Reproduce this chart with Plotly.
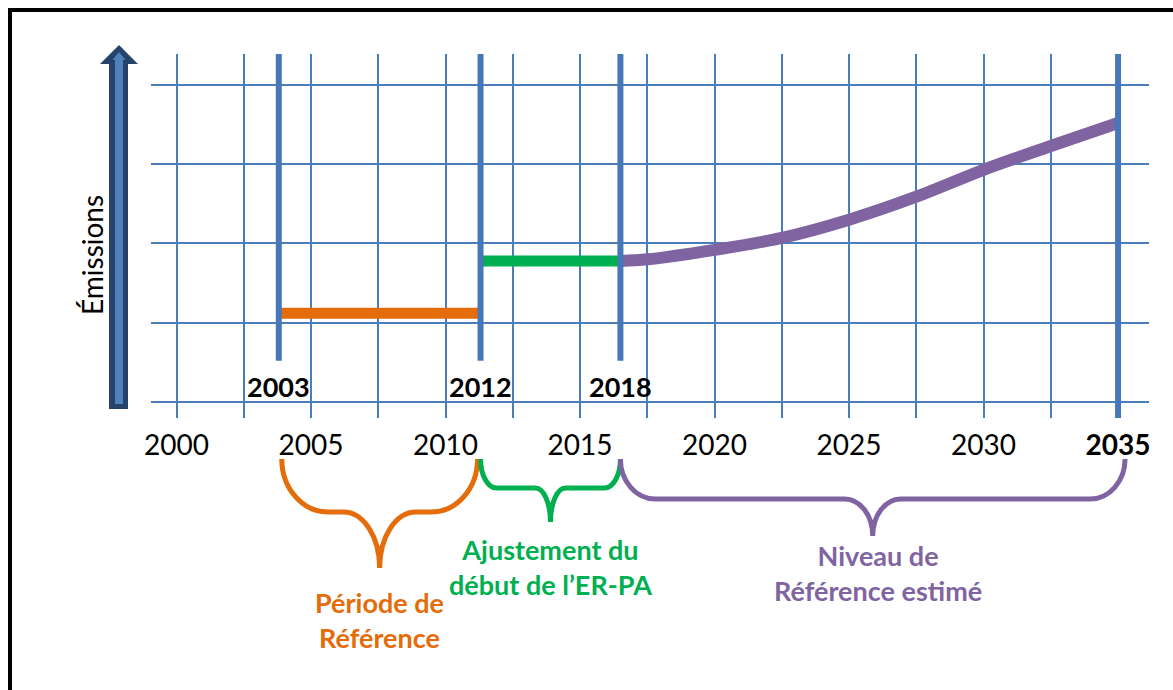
import plotly.graph_objects as go

# ---------------- data ----------------
year_ticks = [2000, 2005, 2010, 2015, 2020, 2025, 2030, 2035]
year_labels = ["2000", "2005", "2010", "2015", "2020", "2025", "2030", "<b>2035</b>"]
minor_step = 2.5
emission_levels = [0, 1, 2, 3, 4]

milestone_labels = ["2003", "2012", "2018", ""]
milestone_x = [2003.8, 2011.3, 2016.5, 2035.0]
milestone_bottom = [0.52, 0.52, 0.52, -0.21]

ref_period_x = [2003.8, 2011.3]
ref_period_y = [1.12, 1.12]
adjust_x = [2011.3, 2016.5]
adjust_y = [1.78, 1.78]
proj_x = [2016.5, 2017.5, 2020.0, 2022.5, 2025.0, 2027.5, 2030.0, 2032.5, 2035.0]
proj_y = [1.78, 1.80, 1.92, 2.07, 2.30, 2.59, 2.93, 3.23, 3.52]

brace_labels = ["Période de<br>Référence",
                "Ajustement du<br>début de l’ER-PA",
                "Niveau de<br>Référence estimé"]
brace_spans = [(0, 1), (1, 2), (2, 3)]
y_title = "Émissions"

# ---------------- style ----------------
W, H = 1173, 690
L, R, T, B = 151, 24, 54, 272
X_RANGE = [1999.05, 2036.15]
Y_RANGE = [-0.202, 4.391]
GRID = "#4A7EBB"
THICK = "#4677B8"
ORANGE = "#E46C0A"
GREEN = "#00B050"
PURPLE = "#8064A2"
FONT = "Lato"

pw, ph = W - L - R, H - T - B


def px2paper(px, py):
    return (px - L) / pw, (H - B - py) / ph


def data2px(x):
    return L + (x - X_RANGE[0]) / (X_RANGE[1] - X_RANGE[0]) * pw


def path_from_px(cmds):
    out = []
    for c in cmds:
        if isinstance(c, str):
            out.append(c)
        else:
            a, b = px2paper(*c)
            out.append(f"{a:.5f},{b:.5f}")
    return " ".join(out)


fig = go.Figure()

fig.add_trace(go.Scatter(x=ref_period_x, y=ref_period_y, mode="lines",
                         line=dict(color=ORANGE, width=11), hoverinfo="skip"))
fig.add_trace(go.Scatter(x=adjust_x, y=adjust_y, mode="lines",
                         line=dict(color=GREEN, width=11), hoverinfo="skip"))
fig.add_trace(go.Scatter(x=proj_x, y=proj_y, mode="lines",
                         line=dict(color=PURPLE, width=12, shape="spline", smoothing=0.9),
                         hoverinfo="skip"))
for mx, mb in zip(milestone_x, milestone_bottom):
    fig.add_trace(go.Scatter(x=[mx, mx], y=[mb, Y_RANGE[1]], mode="lines",
                             line=dict(color=THICK, width=6), hoverinfo="skip"))

for lab, mx in zip(milestone_labels, milestone_x):
    if lab:
        fig.add_annotation(x=mx, y=0.19, xref="x", yref="y", text=f"<b>{lab}</b>",
                           showarrow=False, font=dict(family=FONT, size=27, color="black"),
                           xanchor="center", yanchor="middle")

shapes = []
# frame
fx0, fy0 = px2paper(10, 10)
fx1, fy1 = px2paper(1190, 710)
shapes.append(dict(type="rect", xref="paper", yref="paper", x0=fx0, y0=fy1, x1=fx1, y1=fy0,
                   line=dict(color="black", width=4), fillcolor="rgba(0,0,0,0)", layer="above"))
# y arrow
outer = ["M", (109, 409), "L", (109, 64), "L", (100, 64), "L", (119, 45), "L", (138, 64),
         "L", (128, 64), "L", (128, 409), "Z"]
inner = ["M", (115, 404), "L", (115, 60), "L", (112.5, 60), "L", (119, 52), "L", (125.5, 60),
         "L", (123, 60), "L", (123, 404), "Z"]
shapes.append(dict(type="path", xref="paper", yref="paper", path=path_from_px(outer),
                   fillcolor="#27436A", line=dict(width=0)))
shapes.append(dict(type="path", xref="paper", yref="paper", path=path_from_px(inner),
                   fillcolor="#4F81BD", line=dict(width=0)))

# braces
K = 0.5523
brace_geom = [
    dict(dl=3, dr=-3, yh=512, ytip=568, rx=46, tx=36, color=ORANGE, ty=620),
    dict(dl=0, dr=0, yh=488, ytip=522, rx=16, tx=15, color=GREEN, ty=567),
    dict(dl=0, dr=7, yh=499, ytip=536, rx=35, tx=28, color=PURPLE, ty=573),
]
YTOP = 459
for (i0, i1), g, lab in zip(brace_spans, brace_geom, brace_labels):
    xl = data2px(milestone_x[i0]) + g["dl"]
    xr = data2px(milestone_x[i1]) + g["dr"]
    xm = (xl + xr) / 2
    yh, yt, rx, tx = g["yh"], g["ytip"], g["rx"], g["tx"]
    dy1 = yh - YTOP
    dy2 = yt - yh
    cmds = ["M", (xl, YTOP),
            "C", (xl, YTOP + K * dy1), (xl + rx - K * rx, yh), (xl + rx, yh),
            "L", (xm - tx, yh),
            "C", (xm - tx + K * tx, yh), (xm, yt - K * dy2), (xm, yt),
            "C", (xm, yt - K * dy2), (xm + tx - K * tx, yh), (xm + tx, yh),
            "L", (xr - rx, yh),
            "C", (xr - rx + K * rx, yh), (xr, YTOP + K * dy1), (xr, YTOP)]
    shapes.append(dict(type="path", xref="paper", yref="paper", path=path_from_px(cmds),
                       line=dict(color=g["color"], width=5), fillcolor="rgba(0,0,0,0)"))
    ax, ay = px2paper(xm + (5 if i1 == 3 else 0), g["ty"])
    fig.add_annotation(x=ax, y=ay, xref="paper", yref="paper", text=f"<b>{lab}</b>",
                       showarrow=False, font=dict(family=FONT, size=27, color=g["color"]),
                       xanchor="center", yanchor="middle", align="center")

tx_, ty_ = px2paper(92, 255)
fig.add_annotation(x=tx_, y=ty_, xref="paper", yref="paper", text=y_title, textangle=-90,
                   showarrow=False, font=dict(family=FONT, size=28, color="black"),
                   xanchor="center", yanchor="middle")

fig.update_layout(
    width=W, height=H, autosize=False,
    margin=dict(l=L, r=R, t=T, b=B),
    paper_bgcolor="white", plot_bgcolor="white",
    showlegend=False, shapes=shapes,
    font=dict(family=FONT),
    xaxis=dict(range=X_RANGE, tickmode="array", tickvals=year_ticks, ticktext=year_labels,
               showgrid=True, gridcolor=GRID, gridwidth=2, zeroline=False, showline=False,
               ticks="", ticklabelstandoff=8, tickfont=dict(family=FONT, size=28, color="black"),
               minor=dict(tick0=2000, dtick=minor_step, showgrid=True, gridcolor=GRID, gridwidth=2),
               fixedrange=True),
    yaxis=dict(range=Y_RANGE, tickmode="array", tickvals=emission_levels, showticklabels=False,
               showgrid=True, gridcolor=GRID, gridwidth=2, zeroline=False, showline=False,
               ticks="", fixedrange=True),
)

fig.write_html("out.html", config={"displayModeBar": False},
               post_script="document.body.style.margin='0';document.body.style.overflow='hidden';")
